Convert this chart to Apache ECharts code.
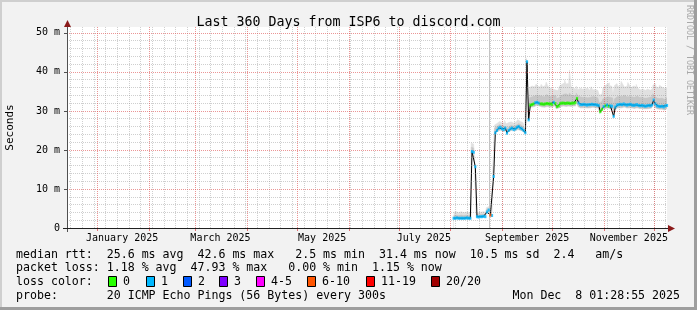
<!DOCTYPE html>
<html><head><meta charset="utf-8">
<script src="https://cdn.jsdelivr.net/npm/echarts@6/dist/echarts.min.js"></script>
<style>html,body{margin:0;padding:0;background:#f2f2f2}#c{width:697px;height:310px}</style>
</head><body><div id="c"></div><script>
// ---------------- DATA ----------------
const originUTC = Date.UTC(2024, 11, 13, 22, 0);   // left edge of plot (day 0)
const spanDays = 360;
const firstDay = 232;                               // day offset of first sample (one sample per day)
const median = [
 2.5,2.5,2.6,2.5,2.5,2.5,2.5,2.5,2.6,2.5,
 2.5,19.6,19.4,15.7,2.9,2.8,2.9,2.9,3.0,2.9,
 4.1,4.6,3.3,3.2,13.2,24.4,25.0,25.6,25.8,25.4,
 25.2,25.6,24.3,25.0,25.4,25.6,25.2,25.4,25.8,26.0,
 25.6,25.4,25.0,24.4,42.6,27.7,31.5,31.6,31.8,32.1,
 32.2,32.0,31.8,31.8,31.7,31.8,31.9,31.8,31.8,31.7,
 32.2,31.9,31.1,31.3,31.9,32.0,32.0,31.9,32.0,32.0,
 31.9,32.0,32.0,32.1,33.2,32.0,31.6,31.6,31.7,31.6,
 31.5,31.6,31.6,31.7,31.6,31.6,31.5,31.4,29.8,30.4,
 31.1,31.3,31.5,31.2,31.3,31.2,28.6,31.0,31.5,31.6,
 31.7,31.6,31.8,31.6,31.5,31.6,31.7,31.5,31.4,31.5,
 31.6,31.4,31.3,31.4,31.3,31.2,31.3,31.4,31.3,31.5,
 32.8,31.8,31.3,31.2,31.1,31.2,31.0,31.3,31.4
];
const lossCount = [
 1,1,1,1,1,1,1,1,1,1,
 1,1,1,1,1,1,1,1,1,1,
 1,1,8,1,1,1,1,1,1,1,
 1,1,1,1,1,1,1,1,1,1,
 1,1,1,1,1,1,0,0,0,1,
 1,1,0,0,0,0,0,0,0,0,
 1,0,0,0,0,0,0,0,0,0,
 0,0,0,0,0,1,1,1,1,1,
 1,1,1,1,1,1,1,1,0,0,
 1,0,1,0,1,1,1,1,1,1,
 1,1,1,1,1,1,1,1,1,1,
 1,1,1,1,1,1,1,1,1,1,
 1,1,1,1,1,1,1,1,1
];
const smokeLow = [
 2.2,2.3,2.2,2.2,2.3,2.2,2.2,2.3,2.2,2.2,
 2.2,19.0,18.9,15.3,2.6,2.6,2.6,2.7,2.6,2.6,
 3.6,4.0,2.9,2.9,12.8,23.8,24.4,24.8,25.0,24.8,
 24.6,24.9,23.9,24.5,24.8,24.9,24.6,24.8,25.1,25.3,
 24.9,24.7,24.4,23.9,42.2,27.2,30.8,30.9,31.0,31.2,
 31.3,31.1,30.9,30.9,30.8,30.9,31.0,30.9,30.9,30.8,
 31.2,31.0,30.4,30.6,31.0,31.1,31.1,31.0,31.1,31.1,
 31.0,31.1,31.1,31.2,31.9,31.0,30.7,30.7,30.8,30.7,
 30.6,30.7,30.7,30.8,30.7,30.7,30.6,30.5,29.1,29.7,
 30.3,30.5,30.6,30.3,30.4,30.3,27.9,30.1,30.6,30.7,
 30.8,30.7,30.9,30.7,30.6,30.7,30.8,30.6,30.5,30.6,
 30.7,30.5,30.4,30.5,30.4,30.3,30.4,30.5,30.4,30.6,
 31.6,30.9,30.4,30.3,30.2,30.3,30.1,30.4,30.5
];
const smokeMid = [
 3.2,3.3,3.3,3.2,3.3,3.2,3.2,3.3,3.3,3.2,
 3.2,20.7,20.5,16.3,3.4,3.4,3.5,3.4,3.5,3.4,
 4.7,5.0,4.2,3.9,14.0,25.6,26.0,26.5,26.6,26.2,
 26.1,26.5,25.4,25.9,26.3,26.5,26.1,26.3,26.6,26.8,
 26.4,26.2,25.9,25.4,43.2,28.4,33.4,33.6,33.8,34.0,
 34.1,33.9,33.7,33.8,33.6,33.8,34.2,33.9,33.7,33.6,
 34.0,33.8,33.2,33.4,33.9,34.1,34.3,34.4,34.1,34.0,
 34.6,34.0,33.9,34.0,34.6,33.9,33.6,33.5,33.7,33.5,
 33.4,33.6,33.5,33.7,33.5,33.6,33.4,33.3,32.0,32.5,
 33.1,33.4,33.6,33.3,33.5,33.3,31.2,33.1,33.6,33.8,
 33.9,33.7,34.0,33.8,33.6,33.7,33.9,33.6,33.5,33.7,
 33.8,33.5,33.4,33.5,33.3,33.2,33.3,33.5,33.4,33.6,
 34.4,33.8,33.3,33.2,33.1,33.3,33.0,33.3,33.4
];
const smokeHigh = [
 4.0,4.2,4.1,3.9,4.2,4.0,3.9,4.1,4.2,4.0,
 3.9,21.8,21.5,16.8,3.9,4.0,4.1,3.9,4.2,4.0,
 5.2,5.5,5.0,4.4,14.6,26.4,26.8,27.3,27.4,27.0,
 26.9,27.6,26.7,27.0,27.2,27.5,26.9,27.2,27.6,27.8,
 27.3,27.1,26.9,26.2,43.6,29.0,36.0,36.4,36.2,36.6,
 36.9,36.3,36.1,36.8,36.2,36.5,37.4,36.4,35.9,35.6,
 35.8,35.4,35.2,35.6,36.4,36.8,37.2,38.0,36.9,37.1,
 40.5,36.2,35.8,35.6,36.4,35.5,35.8,35.6,36.0,35.7,
 35.9,35.6,35.3,36.2,35.4,35.5,35.3,35.2,34.0,34.4,
 35.8,36.4,36.8,37.2,36.5,36.3,34.6,36.5,37.0,36.4,
 36.2,37.6,36.8,36.1,36.3,37.3,36.6,36.0,36.4,36.2,
 36.8,35.8,35.4,35.6,35.5,35.3,35.6,35.4,35.3,35.8,
 36.6,37.0,36.2,35.9,36.6,36.1,35.8,36.2,36.0
];
const vruleDay = 253.3;  // solid vertical rule seen in the graph
const monthStarts = ['2025-01-01','2025-02-01','2025-03-01','2025-04-01','2025-05-01','2025-06-01',
                     '2025-07-01','2025-08-01','2025-09-01','2025-10-01','2025-11-01','2025-12-01'];
const labelMonths = ['2025-01-01','2025-03-01','2025-05-01','2025-07-01','2025-09-01','2025-11-01'];
const labelTexts  = ['January 2025','March 2025','May 2025','July 2025','September 2025','November 2025'];
const firstWeek = '2024-12-16';
const yMax = 51.5;
const yMajor = [10,20,30,40,50];
const yMinorStep = 2;
const lossLabels = ['0','1','2','3','4-5','6-10','11-19','20/20'];
const lossRanges = [[0,0],[1,1],[2,2],[3,3],[4,5],[6,10],[11,19],[20,20]];
const legendLines = [
 'median rtt:  25.6 ms avg  42.6 ms max   2.5 ms min  31.4 ms now  10.5 ms sd  2.4   am/s',
 'packet loss: 1.18 % avg  47.93 % max   0.00 % min  1.15 % now',
 'loss color:',
 'probe:       20 ICMP Echo Pings (56 Bytes) every 300s'
];
const stampText = 'Mon Dec  8 01:28:55 2025';
const titleText = 'Last 360 Days from ISP6 to discord.com';

// ---------------- STYLE ----------------
const lossColors = ['#26ff00','#00b8ff','#0059ff','#7e00ff','#ff00ff','#ff5500','#ff0000','#a10000'];
const MONO = 'DejaVu Sans Mono';
const G = {left:67, top:27, width:600, height:201};

// ---------------- BUILD ----------------
const DAY = 86400000;
const dayOf = s => (Date.UTC(+s.slice(0,4), +s.slice(5,7)-1, +s.slice(8,10)) - originUTC) / DAY;
const monthDays = monthStarts.map(dayOf);
const labelDays = labelMonths.map(s => dayOf(s) + 15);
const weekDays = [];
for (let d = dayOf(firstWeek); d < spanDays; d += 7) weekDays.push(d);
const yMinor = [];
for (let v = yMinorStep; v < yMax; v += yMinorStep) if (v % 10 !== 0) yMinor.push(v);

const xs = median.map((_, i) => firstDay + i);
const pairs = arr => xs.map((x, i) => [x, arr[i]]);

const dotted = (c) => ({color: c, width: 1, type: [1, 1]});
const gridLines = [];
weekDays.forEach(d => gridLines.push({xAxis: d, lineStyle: dotted('rgba(140,140,140,0.42)')}));
yMinor.forEach(v => gridLines.push({yAxis: v, lineStyle: dotted('rgba(140,140,140,0.42)')}));
monthDays.forEach(d => gridLines.push({xAxis: d, lineStyle: dotted('rgba(222,80,80,0.6)')}));
yMajor.forEach(v => gridLines.push({yAxis: v, lineStyle: dotted('rgba(222,80,80,0.6)')}));
gridLines.push({xAxis: vruleDay, lineStyle: {color: '#c4c4c4', width: 1, type: 'solid'}});

const areaSeries = (name, arr, fill) => ({type:'line', name, data: pairs(arr), step:'middle',
  showSymbol:false, symbol:'none', lineStyle:{color: fill, width: 0.5},
  areaStyle:{color: fill, opacity: 1, origin: 'start'}, z: 2, silent: true});

const series = [
  areaSeries('smokeHigh', smokeHigh, '#e0e0e0'),
  areaSeries('smokeMid', smokeMid, '#c6c6c6'),
  areaSeries('smokeLow', smokeLow, '#ffffff'),
  {type:'line', name:'grid', data: [], z:3, silent:true,
   markLine:{silent:true, symbol:['none','none'], label:{show:false}, animation:false, data: gridLines}},
  {type:'line', name:'median', data: pairs(median), symbol:'none', showSymbol:false,
   lineStyle:{color:'#000', width:1}, z:4, silent:true}
];
lossRanges.forEach((r, k) => {
  const pts = [];
  xs.forEach((x, i) => { if (lossCount[i] >= r[0] && lossCount[i] <= r[1]) pts.push([x, median[i]]); });
  series.push({type:'scatter', name:'loss' + lossLabels[k], data: pts, symbol:'rect', symbolSize:[2.2, 3],
    itemStyle:{color: lossColors[k]}, z:5, silent:true});
});

const graphic = [];
graphic.push({type:'rect', shape:{x:0,y:0,width:697,height:2}, style:{fill:'#cfcfcf'}, silent:true});
graphic.push({type:'rect', shape:{x:0,y:0,width:2,height:310}, style:{fill:'#cfcfcf'}, silent:true});
graphic.push({type:'rect', shape:{x:0,y:307,width:697,height:3}, style:{fill:'#9e9e9e'}, silent:true});
graphic.push({type:'rect', shape:{x:694,y:0,width:3,height:310}, style:{fill:'#9e9e9e'}, silent:true});
graphic.push({type:'line', shape:{x1:67.5,y1:232,x2:67.5,y2:26}, style:{stroke:'#505050', lineWidth:1}, z:50, silent:true});
graphic.push({type:'polygon', shape:{points:[[64,27],[71,27],[67.5,20]]}, style:{fill:'#8b1a1a'}, z:50, silent:true});
graphic.push({type:'line', shape:{x1:63,y1:228.5,x2:669,y2:228.5}, style:{stroke:'#202020', lineWidth:1}, z:50, silent:true});
graphic.push({type:'polygon', shape:{points:[[668,225],[668,232],[675,228.5]]}, style:{fill:'#8b1a1a'}, z:50, silent:true});
graphic.push({type:'text', x:10.5, y:127.5, rotation:Math.PI/2, silent:true,
  style:{text:'Seconds', font:'11px ' + MONO, fill:'#000', textAlign:'center', textVerticalAlign:'middle'}});
graphic.push({type:'text', x:689, y:5, rotation:-Math.PI/2, silent:true,
  style:{text:'RRDTOOL / TOBI OETIKER', font:'8.3px ' + MONO, fill:'#a8a8a8', textAlign:'left', textVerticalAlign:'middle'}});
const lineY = [254.5, 268.3, 282.2, 296];
legendLines.forEach((t, i) => graphic.push({type:'text', x:16, y:lineY[i], silent:true,
  style:{text:t, font:'11.6px ' + MONO, fill:'#000', textAlign:'left', textVerticalAlign:'middle'}}));
graphic.push({type:'text', x:680, y:lineY[3], silent:true,
  style:{text:stampText, font:'11.6px ' + MONO, fill:'#000', textAlign:'right', textVerticalAlign:'middle'}});
const boxX = [108, 146, 183, 219, 256, 307, 366, 431];
lossLabels.forEach((t, k) => {
  graphic.push({type:'rect', shape:{x:boxX[k]+0.5, y:276.5, width:8, height:10},
    style:{fill:lossColors[k], stroke:'#000', lineWidth:1}, silent:true});
  graphic.push({type:'text', x:boxX[k]+15, y:lineY[2], silent:true,
    style:{text:t, font:'11.6px ' + MONO, fill:'#000', textAlign:'left', textVerticalAlign:'middle'}});
});

const option = {
  animation:false,
  backgroundColor:'#f2f2f2',
  title:{text:titleText, left:'center', top:11,
    textStyle:{fontFamily:MONO, fontSize:13.3, fontWeight:'normal', color:'#000'}},
  grid:{left:G.left, top:G.top, width:G.width, height:G.height, show:true, backgroundColor:'#fff', borderWidth:0},
  xAxis:{type:'value', min:0, max:spanDays,
    axisLine:{show:false}, splitLine:{show:false},
    axisTick:{show:true, customValues: monthDays, length:3, lineStyle:{color:'rgba(222,80,80,0.8)'}},
    axisLabel:{customValues: labelDays, margin:5, fontFamily:MONO, fontSize:10, color:'#000',
      formatter: v => { const i = labelDays.findIndex(d => Math.abs(d - v) < 1e-6); return i >= 0 ? labelTexts[i] : ''; }}},
  yAxis:{type:'value', min:0, max:yMax, interval:10,
    axisLine:{show:false}, splitLine:{show:false},
    axisTick:{show:true, customValues:[0].concat(yMajor), length:3, lineStyle:{color:'#505050'}},
    axisLabel:{margin:7, fontFamily:MONO, fontSize:10, color:'#000', showMaxLabel:false,
      formatter: v => v === 0 ? '0' : (v % 10 === 0 ? v + ' m' : '')}},
  graphic: graphic,
  series: series
};
const chart = echarts.init(document.getElementById('c'), null, {width:697, height:310});
chart.setOption(option);
</script></body></html>
